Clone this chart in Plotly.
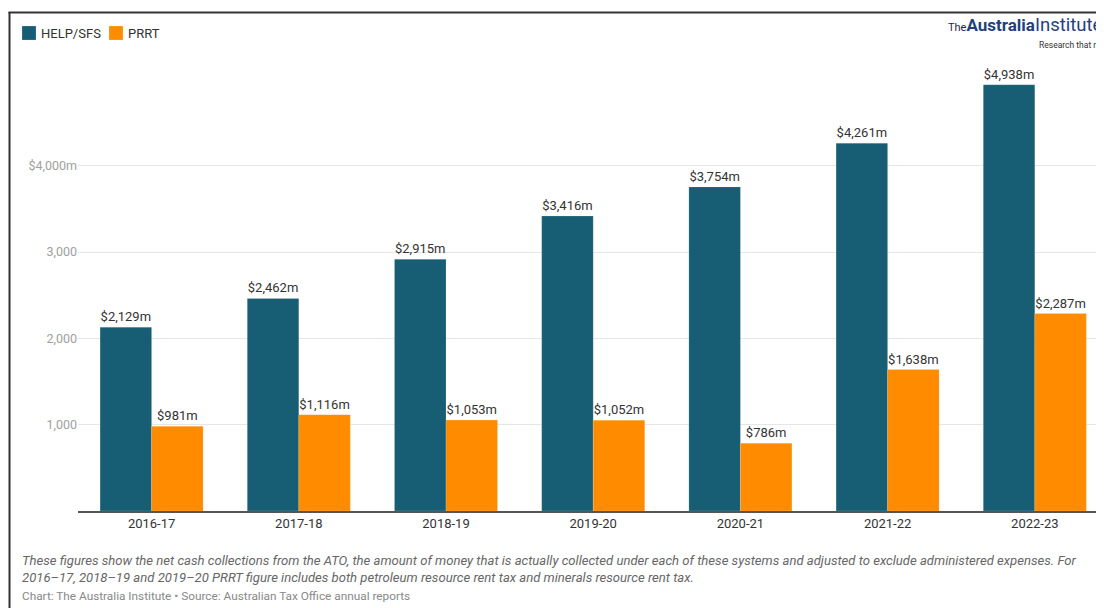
import plotly.graph_objects as go

years = ["2016-17", "2017-18", "2018-19", "2019-20", "2020-21", "2021-22", "2022-23"]
help_sfs = [2129, 2462, 2915, 3416, 3754, 4261, 4938]
prrt = [981, 1116, 1053, 1052, 786, 1638, 2287]
ytick_vals = [1000, 2000, 3000, 4000]
ytick_text = ["1,000", "2,000", "3,000", "$4,000m"]
series_names = ["HELP/SFS", "PRRT"]
series_colors = ["#175e75", "#ff8c00"]

# page has an 8px body margin: figure origin sits at window (8, 8)
OFF = 8
W, H = 1096, 600
L, R, T, B = 70, 0, 52, 97
PW, PH = W - L - R, H - T - B


def px(x):  # window x -> paper
    return (x - OFF - L) / PW


def py(y):  # window y -> paper
    return (H - B - (y - OFF)) / PH


FONT = "Roboto, 'Open Sans', sans-serif"

fig = go.Figure()
for name, vals, col in zip(series_names, [help_sfs, prrt], series_colors):
    fig.add_trace(go.Bar(
        name=name, x=years, y=vals, marker_color=col,
        marker_line=dict(color="rgba(255,255,255,0.3)", width=0.5),
        texttemplate="$%{y:,}m", textposition="outside",
        textfont=dict(color="#333333", size=13, family=FONT), cliponaxis=False,
        showlegend=False,
    ))

fig.update_layout(
    width=W, height=H,
    margin=dict(l=L, r=R, t=T, b=B),
    paper_bgcolor="white", plot_bgcolor="white",
    barmode="group", bargap=0.3, bargroupgap=0,
    font=dict(family=FONT, color="#333333"),
    xaxis=dict(range=[-0.5, 6.47], showline=True, linecolor="#555555", linewidth=1.5,
               ticks="", tickfont=dict(size=13, color="#333333"), showgrid=False),
    yaxis=dict(range=[0, PH / 0.08633], tickvals=ytick_vals, ticktext=ytick_text,
               showgrid=True, gridcolor="#e6e6e6", gridwidth=1, zeroline=False,
               tickfont=dict(size=12.5, color="#a0a0a0"), ticks="", showline=False),
)

# manual legend
legend_x = [22, 109]
for lx, name, col in zip(legend_x, series_names, series_colors):
    fig.add_shape(type="rect", xref="paper", yref="paper",
                  x0=px(lx), x1=px(lx + 14), y0=py(40), y1=py(26),
                  fillcolor=col, line=dict(color="rgba(255,255,255,0.4)", width=0.5))
    fig.add_annotation(xref="paper", yref="paper", x=px(lx + 17), y=py(33), xanchor="left",
                       yanchor="middle", showarrow=False, text=name,
                       font=dict(family=FONT, size=13, color="#333333"))

# frame lines
fig.add_shape(type="line", xref="paper", yref="paper", x0=px(9.5), x1=px(9.5), y0=py(12), y1=py(612),
              line=dict(color="#333333", width=2))
fig.add_shape(type="line", xref="paper", yref="paper", x0=px(8.5), x1=px(1110), y0=py(12.5), y1=py(12.5),
              line=dict(color="#333333", width=2))

# logo
fig.add_annotation(xref="paper", yref="paper", x=px(946), y=py(25), xanchor="left", yanchor="middle",
                   showarrow=False,
                   text="<span style='font-size:11px;color:#1a2a4a'>The</span><b>Australia</b>"
                        "<span style='font-size:18.5px'>Institute</span>",
                   font=dict(family=FONT, size=17, color="#1f3f7f"))
fig.add_annotation(xref="paper", yref="paper", x=px(1037), y=py(45), xanchor="left", yanchor="middle",
                   showarrow=False, text="Research that matters",
                   font=dict(family=FONT, size=8.5, color="#333333"))

# footnotes
fig.add_annotation(xref="paper", yref="paper", x=px(20), y=py(569), xanchor="left", yanchor="middle",
                   showarrow=False, align="left",
                   text="<i>These figures show the net cash collections from the ATO, the amount of money that is actually collected under each of these systems and adjusted to exclude administered expenses. For<br>2016–17, 2018–19 and 2019–20 PRRT figure includes both petroleum resource rent tax and minerals resource rent tax.</i>",
                   font=dict(family=FONT, size=13.1, color="#666666"))
fig.add_annotation(xref="paper", yref="paper", x=px(20), y=py(596), xanchor="left", yanchor="middle",
                   showarrow=False, align="left",
                   text="Chart: The Australia Institute • Source: Australian Tax Office annual reports",
                   font=dict(family=FONT, size=11.8, color="#888888"))

fig.write_html("out.html")
